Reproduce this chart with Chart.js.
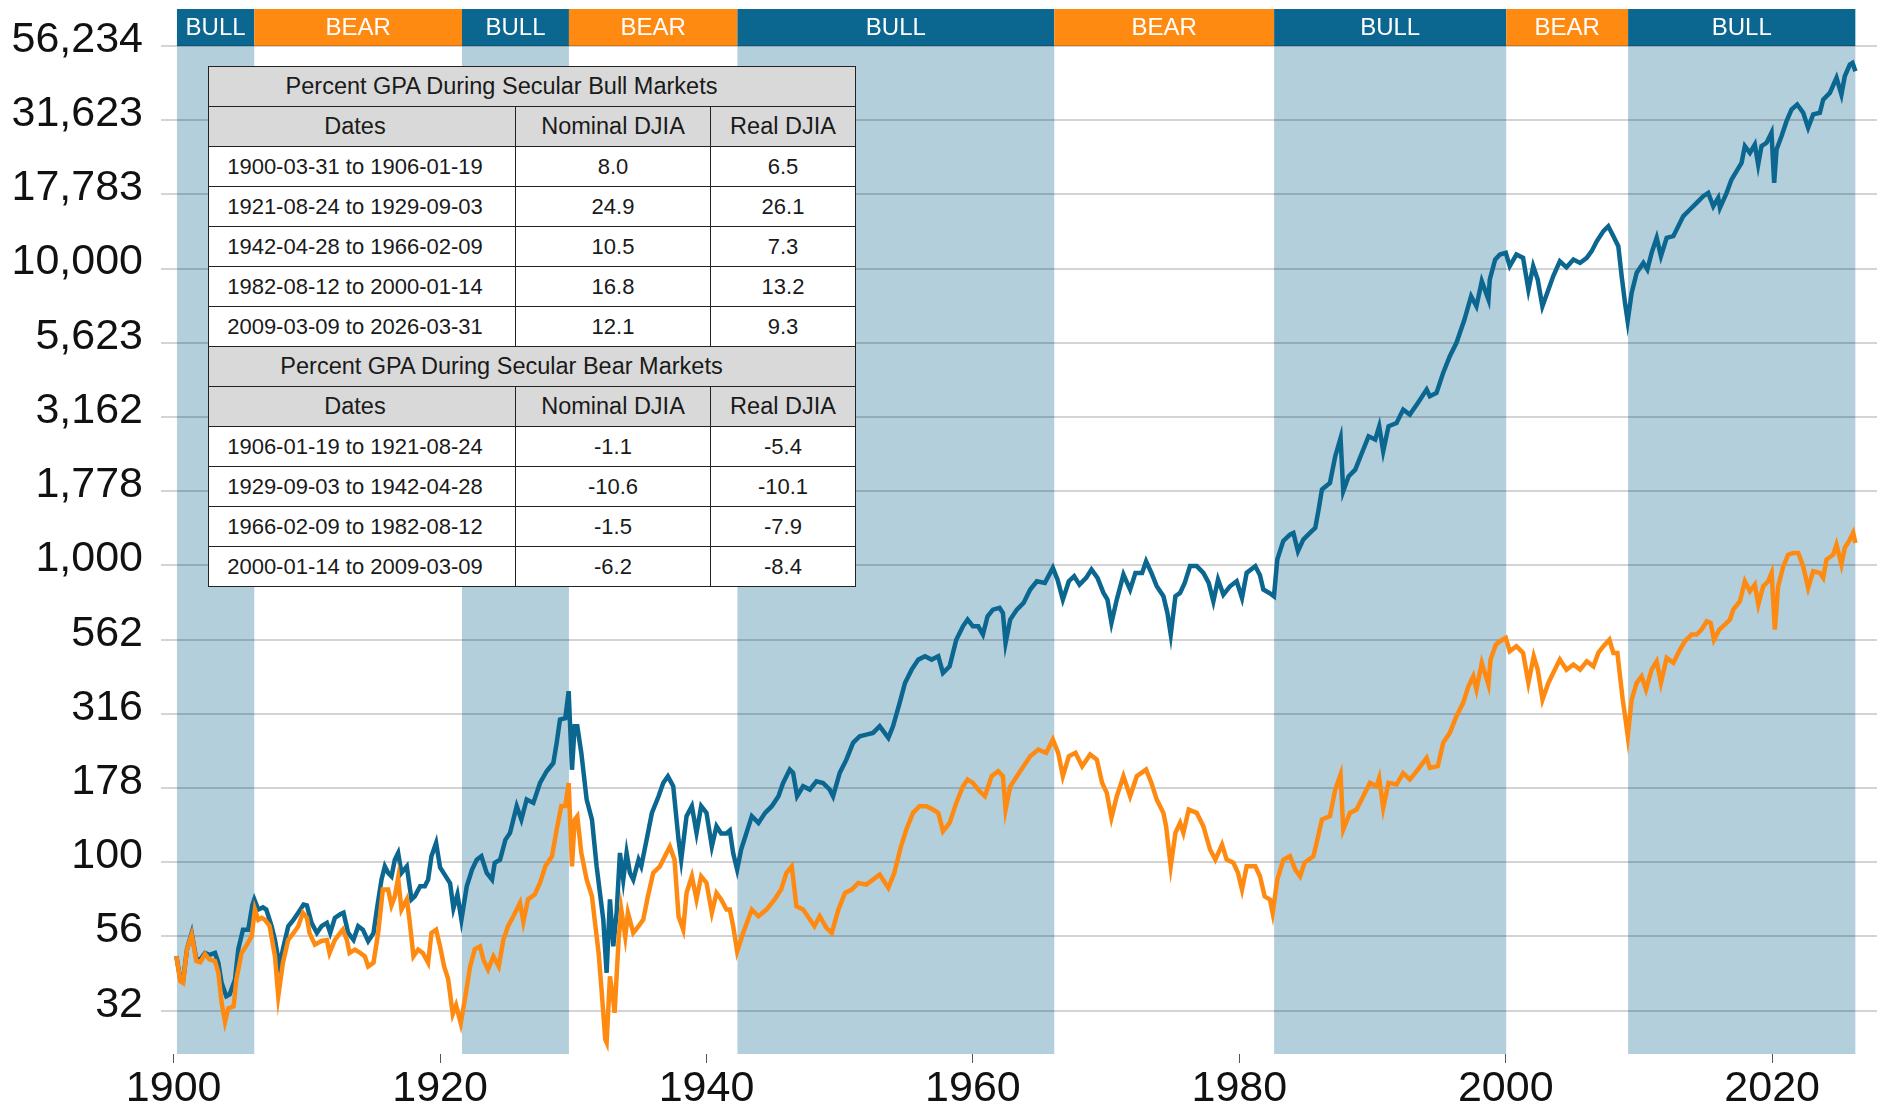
<!DOCTYPE html>
<html>
<head>
<meta charset="utf-8">
<title>DJIA secular bull and bear markets</title>
<script src="https://cdn.jsdelivr.net/npm/chart.js@4.4.1/dist/chart.umd.min.js"></script>
<style>
  body { margin: 0; background: #fff; }
  #wrap { position: relative; width: 1877px; height: 1107px; }
  #gpaTable {
    position: absolute; left: 208px; top: 66px; width: 647px;
    border-collapse: collapse; table-layout: fixed;
    font-family: 'Liberation Sans', Arial, sans-serif; color: #1a1a1a; background: #fff;
  }
  #gpaTable td { border: 1.5px solid #222; height: 39px; padding: 0; text-align: center; font-size: 22px; line-height: 1; }
  #gpaTable tr.title td { background: #d9d9d9; font-size: 23.5px; padding-right: 61px; }
  #gpaTable tr.head td { background: #d9d9d9; font-size: 23.5px; }
  #gpaTable td.dates { padding-right: 14px; }
</style>
</head>
<body>
<div id="wrap">
  <canvas id="djiaChart" width="1877" height="1107"></canvas>
  <table id="gpaTable">
    <colgroup><col style="width:307px"><col style="width:195px"><col style="width:145px"></colgroup>
    <tbody id="gpaBody"></tbody>
  </table>
</div>
<script>
// phase boundaries (same dates as the table) and their labels
const phaseDates = ['1900-03-31', '1906-01-19', '1921-08-24', '1929-09-03', '1942-04-28',
    '1966-02-09', '1982-08-12', '2000-01-14', '2009-03-09', '2026-03-31'];
const phaseLabels = ['BULL', 'BEAR', 'BULL', 'BEAR', 'BULL', 'BEAR', 'BULL', 'BEAR', 'BULL'];

// axis ticks
const xTickYears = [1900, 1920, 1940, 1960, 1980, 2000, 2020];
const yTickValues = [31.6228, 56.2341, 100, 177.828, 316.228, 562.341, 1000, 1778.28,
    3162.28, 5623.41, 10000, 17782.8, 31622.8, 56234.1];
const yTickLabels = ['32', '56', '100', '178', '316', '562', '1,000', '1,778',
    '3,162', '5,623', '10,000', '17,783', '31,623', '56,234'];

// table contents
const bullDates = ['1900-03-31 to 1906-01-19', '1921-08-24 to 1929-09-03', '1942-04-28 to 1966-02-09',
    '1982-08-12 to 2000-01-14', '2009-03-09 to 2026-03-31'];
const bullNominal = ['8.0', '24.9', '10.5', '16.8', '12.1'];
const bullReal = ['6.5', '26.1', '7.3', '13.2', '9.3'];
const bearDates = ['1906-01-19 to 1921-08-24', '1929-09-03 to 1942-04-28', '1966-02-09 to 1982-08-12',
    '2000-01-14 to 2009-03-09'];
const bearNominal = ['-1.1', '-10.6', '-1.5', '-6.2'];
const bearReal = ['-5.4', '-10.1', '-7.9', '-8.4'];

// [year, value]
const nominalDjia = [
    [1900.2, 48.3], [1900.5, 40.2], [1900.7, 39.7], [1901.0, 51], [1901.35, 57.7], [1901.7, 47.1],
    [1902.0, 47.1], [1902.35, 49.5], [1902.7, 48.8], [1903.1, 49.5], [1903.35, 45.9], [1903.6, 39.2],
    [1903.95, 35.4], [1904.2, 35.9], [1904.6, 40.2], [1904.85, 51], [1905.2, 59.3], [1905.6, 59.3],
    [1905.9, 71.6], [1906.05, 75], [1906.35, 69.3], [1906.7, 70.5], [1906.95, 69.3], [1907.35, 60.9],
    [1907.6, 54.8], [1907.95, 44.6], [1908.2, 51], [1908.6, 60.9], [1909.0, 64.1], [1909.35, 67.6],
    [1909.75, 72], [1910.0, 71.6], [1910.35, 62.5], [1910.75, 57.8], [1911.1, 60.9], [1911.5, 62.5],
    [1911.75, 57.8], [1912.1, 65], [1912.5, 66.8], [1912.75, 67.6], [1913.1, 57.8], [1913.5, 54.8],
    [1913.85, 60.9], [1914.2, 59.3], [1914.6, 54.2], [1915.0, 57.7], [1915.25, 69.3], [1915.6, 87.4],
    [1915.85, 96.9], [1916.1, 92.1], [1916.35, 89.7], [1916.6, 102], [1916.85, 107.5], [1917.1, 92.1],
    [1917.5, 96.9], [1917.85, 75], [1918.1, 76.8], [1918.5, 83], [1918.85, 83], [1919.1, 87.4],
    [1919.35, 104.8], [1919.7, 116.2], [1920.0, 96], [1920.4, 90], [1920.75, 85], [1921.0, 70],
    [1921.3, 78], [1921.6, 64], [1922.0, 83], [1922.4, 94.5], [1922.75, 102], [1923.1, 104.8],
    [1923.5, 92.1], [1923.9, 87.4], [1924.1, 99.5], [1924.5, 102], [1924.9, 119], [1925.25, 125.6],
    [1925.75, 154.6], [1926.1, 139.3], [1926.5, 162.8], [1927.0, 158.5], [1927.5, 185], [1928.0, 202.6],
    [1928.5, 216], [1928.75, 252.7], [1929.0, 302.6], [1929.4, 306], [1929.65, 377], [1929.9, 205],
    [1930.1, 287], [1930.3, 287], [1930.6, 233.7], [1931.0, 162.8], [1931.4, 139.3], [1931.75, 97],
    [1932.0, 78.8], [1932.25, 64.1], [1932.5, 42.4], [1932.75, 75], [1933.0, 52.1], [1933.25, 67.6],
    [1933.5, 107.5], [1933.75, 87.4], [1934.0, 107.5], [1934.25, 92.1], [1934.5, 87.4], [1934.9, 102],
    [1935.1, 97], [1935.5, 119], [1935.9, 146.6], [1936.4, 166.9], [1936.75, 185], [1937.1, 194.8],
    [1937.5, 180.5], [1937.9, 119], [1938.1, 102], [1938.5, 143], [1938.9, 154.6], [1939.25, 125.6],
    [1939.6, 154.6], [1940.0, 146.6], [1940.4, 113], [1940.75, 132.3], [1941.1, 125], [1941.5, 125],
    [1941.75, 128], [1942.0, 107.5], [1942.3, 94.5], [1942.6, 110.3], [1943.0, 125.6], [1943.4, 143],
    [1943.9, 135.7], [1944.4, 146.7], [1944.9, 154.5], [1945.4, 166.9], [1945.75, 185], [1946.25, 205.3],
    [1946.5, 200], [1946.8, 166.9], [1947.25, 180.3], [1947.75, 175.7], [1948.25, 187.5], [1948.75, 185],
    [1949.25, 175.7], [1949.5, 166.9], [1950.0, 200], [1950.5, 221.7], [1951.0, 252.5], [1951.5, 265.8],
    [1952.0, 269.2], [1952.5, 272.7], [1953.0, 287.2], [1953.65, 262.4], [1954.0, 287.2], [1954.5, 344.4],
    [1954.9, 402], [1955.4, 445.7], [1955.9, 481.7], [1956.4, 494.3], [1956.9, 481.7], [1957.4, 494.3],
    [1957.75, 434.5], [1958.25, 457.1], [1958.75, 562], [1959.25, 623.7], [1959.6, 657.2], [1960.0, 623.7],
    [1960.4, 623.7], [1960.75, 584.8], [1961.1, 674.4], [1961.5, 709.8], [1962.0, 719.6], [1962.25, 691.7],
    [1962.45, 548], [1962.8, 657], [1963.3, 710], [1963.8, 747.6], [1964.3, 829.4], [1964.8, 884.8],
    [1965.4, 873.5], [1966.0, 981], [1966.35, 896.3], [1966.75, 767.4], [1967.2, 884.8], [1967.6, 919.7],
    [1968.0, 862], [1968.5, 908], [1968.9, 968.9], [1969.35, 908], [1969.8, 808], [1970.1, 767.4],
    [1970.4, 640.6], [1970.8, 767.4], [1971.3, 931.6], [1971.8, 829.4], [1972.2, 944], [1972.7, 944],
    [1973.0, 1033], [1973.4, 944], [1973.8, 851], [1974.3, 787.4], [1974.6, 691.8], [1974.85, 584.8],
    [1975.2, 787.4], [1975.55, 808], [1975.9, 873.5], [1976.3, 995], [1976.8, 995], [1977.3, 944],
    [1977.7, 873.5], [1978.05, 757], [1978.4, 896.3], [1978.8, 797.6], [1979.3, 851], [1979.8, 884.8],
    [1980.2, 777.3], [1980.55, 944], [1981.2, 994], [1981.55, 926.7], [1981.8, 829.4], [1982.25, 808],
    [1982.6, 787.4], [1982.85, 1048], [1983.3, 1210], [1983.8, 1270], [1984.06, 1287], [1984.4, 1117],
    [1984.8, 1222], [1985.3, 1287], [1985.7, 1338], [1985.95, 1543], [1986.2, 1802], [1986.8, 1897],
    [1987.2, 2333], [1987.6, 2690], [1987.8, 1778], [1988.2, 1995], [1988.7, 2103], [1989.2, 2393],
    [1989.7, 2723], [1990.2, 2654], [1990.5, 2944], [1990.8, 2426], [1991.2, 2944], [1991.8, 3020],
    [1992.3, 3350], [1992.8, 3222], [1993.4, 3528], [1994.06, 3913], [1994.3, 3715], [1994.8, 3811],
    [1995.3, 4453], [1995.8, 5070], [1996.3, 5623], [1996.9, 6737], [1997.4, 8072], [1997.8, 7470],
    [1998.2, 9070], [1998.7, 7870], [1998.8, 9180], [1999.2, 10727], [1999.56, 11155], [2000.0, 11300],
    [2000.3, 10190], [2000.8, 11155], [2001.3, 10870], [2001.7, 8490], [2002.06, 10190], [2002.4, 9180],
    [2002.75, 7470], [2003.2, 8490], [2003.56, 9420], [2004.06, 10590], [2004.56, 10100], [2005.08, 10730],
    [2005.58, 10450], [2006.08, 10870], [2006.45, 11450], [2006.83, 12360], [2007.33, 13377], [2007.7, 13900],
    [2008.08, 12865], [2008.45, 11902], [2008.7, 9435], [2008.95, 7670], [2009.15, 6650], [2009.45, 8280],
    [2009.83, 9682], [2010.33, 10450], [2010.63, 9930], [2010.95, 11300], [2011.33, 12700], [2011.65, 11020],
    [2012.08, 12700], [2012.58, 12865], [2012.95, 13900], [2013.33, 15030], [2013.83, 15820], [2014.33, 16660],
    [2014.83, 17543], [2015.2, 18001], [2015.58, 16230], [2015.95, 17320], [2016.08, 16030], [2016.58, 18001],
    [2016.95, 19950], [2017.33, 21290], [2017.7, 22720], [2017.95, 25860], [2018.33, 24550], [2018.7, 26190],
    [2018.95, 22420], [2019.2, 25860], [2019.58, 26540], [2019.95, 28680], [2020.15, 19450], [2020.33, 25180],
    [2020.7, 27930], [2021.08, 31390], [2021.45, 34360], [2021.88, 35730], [2022.33, 33500], [2022.7, 29810],
    [2023.08, 33080], [2023.58, 33500], [2023.83, 37120], [2024.33, 39080], [2024.83, 43920], [2025.2, 38600],
    [2025.45, 44470], [2025.83, 48720], [2026.03, 49340], [2026.25, 46240]
];

const realDjia = [
    [1900.2, 48.3], [1900.5, 39.7], [1900.7, 39.2], [1901.0, 51], [1901.35, 57], [1901.7, 46.5],
    [1902.0, 46], [1902.35, 49], [1902.7, 47], [1903.1, 46.5], [1903.35, 42.5], [1903.6, 33.6],
    [1903.85, 29], [1904.1, 32.2], [1904.5, 32.7], [1904.7, 40.2], [1905.1, 49.5], [1905.5, 52.8],
    [1905.85, 56.3], [1906.1, 69.3], [1906.35, 64], [1906.6, 65], [1906.85, 64], [1907.2, 61],
    [1907.6, 48.3], [1907.85, 35.4], [1908.2, 45.9], [1908.6, 54.8], [1909.0, 57.8], [1909.35, 60.9],
    [1909.7, 67.6], [1910.0, 65], [1910.2, 57.7], [1910.6, 52.8], [1911.1, 54.3], [1911.5, 54.7],
    [1911.7, 49.5], [1912.1, 54.8], [1912.5, 57.8], [1912.7, 59.3], [1913.0, 54.8], [1913.2, 49.5],
    [1913.6, 50.8], [1914.0, 49.5], [1914.35, 48.2], [1914.6, 44.6], [1915.0, 45.9], [1915.35, 57.8],
    [1915.7, 80.9], [1916.1, 80.9], [1916.35, 71.6], [1916.6, 76.8], [1916.85, 88.6], [1917.1, 69.3],
    [1917.5, 75], [1917.7, 64], [1918.0, 48.2], [1918.35, 50.8], [1918.7, 49.5], [1919.1, 45.9],
    [1919.35, 57.8], [1919.7, 59.3], [1920.0, 52], [1920.3, 44.6], [1920.6, 40.5], [1920.95, 30.8],
    [1921.2, 33], [1921.55, 28.7], [1921.9, 35.4], [1922.25, 44.6], [1922.6, 50.9], [1923.0, 52.1],
    [1923.25, 47], [1923.6, 43.5], [1924.0, 48.2], [1924.4, 44.6], [1924.75, 54.8], [1925.1, 60.9],
    [1925.5, 65.8], [1926.0, 73], [1926.25, 63], [1926.6, 75], [1927.1, 77.9], [1927.5, 85.2],
    [1927.9, 96.9], [1928.4, 104.8], [1928.75, 128.9], [1929.1, 154.6], [1929.4, 154.6], [1929.65, 185],
    [1929.9, 96.9], [1930.1, 139], [1930.3, 143], [1930.6, 107.5], [1931.0, 87.5], [1931.4, 76.8],
    [1931.6, 64.1], [1931.9, 49.5], [1932.1, 38.2], [1932.4, 25.3], [1932.5, 24.7], [1932.75, 41.3],
    [1933.0, 34.3], [1933.1, 31.1], [1933.4, 54.8], [1933.6, 69.3], [1933.9, 56.2], [1934.1, 67.6],
    [1934.5, 57.8], [1934.9, 60.9], [1935.25, 64.1], [1935.6, 76.8], [1936.0, 92.1], [1936.5, 96.9],
    [1937.0, 107.5], [1937.25, 113], [1937.6, 102], [1937.9, 65.8], [1938.25, 59.3], [1938.5, 78.8],
    [1938.9, 89.7], [1939.25, 75], [1939.6, 89.7], [1940.0, 85.2], [1940.4, 67.6], [1940.75, 78.8],
    [1941.1, 75], [1941.5, 69.3], [1941.75, 69.3], [1942.0, 60.9], [1942.3, 50.1], [1942.75, 57.8],
    [1943.4, 69.3], [1943.9, 65.8], [1944.5, 69.3], [1945.1, 74.8], [1945.6, 80.9], [1946.0, 92.1],
    [1946.4, 96.9], [1946.75, 71.1], [1947.25, 69.3], [1947.6, 65.8], [1948.1, 60.9], [1948.5, 65.8],
    [1949.0, 60.1], [1949.4, 57.8], [1949.9, 69.3], [1950.4, 78.8], [1950.9, 80.9], [1951.4, 85.2],
    [1952.0, 84.1], [1952.5, 87.4], [1953.0, 90.9], [1953.65, 82], [1954.1, 92.1], [1954.6, 113.2],
    [1955.0, 128.9], [1955.5, 146.7], [1956.0, 154.5], [1956.5, 154.5], [1957.0, 150.5], [1957.4, 146.7],
    [1957.75, 127.2], [1958.25, 135.7], [1958.75, 158.5], [1959.25, 180.3], [1959.6, 190], [1960.0, 185],
    [1960.5, 173.4], [1960.9, 166.9], [1961.4, 195], [1961.9, 202.6], [1962.25, 195], [1962.45, 150.5],
    [1962.8, 180], [1963.3, 195], [1963.8, 210.7], [1964.3, 227.6], [1964.9, 239.8], [1965.5, 233.7],
    [1966.0, 259.1], [1966.4, 233.7], [1966.75, 195], [1967.2, 227.6], [1967.7, 233.7], [1968.2, 210.7],
    [1968.8, 230.7], [1969.3, 221.8], [1969.7, 185], [1970.05, 171.3], [1970.4, 141.1], [1970.8, 166.9],
    [1971.3, 195], [1971.8, 166.9], [1972.3, 195], [1973.0, 205.3], [1973.4, 185], [1973.8, 162.6],
    [1974.3, 146.7], [1974.5, 132.3], [1974.85, 97], [1975.2, 125.6], [1975.55, 135.7], [1975.8, 125.6],
    [1976.2, 150.5], [1976.8, 146.7], [1977.3, 132.3], [1977.8, 110.4], [1978.2, 102.1], [1978.7, 114.7],
    [1979.05, 102.1], [1979.55, 99.6], [1979.9, 92.1], [1980.2, 80.9], [1980.55, 97], [1981.2, 97],
    [1981.55, 89.7], [1981.9, 76.8], [1982.3, 74.9], [1982.5, 67.5], [1982.85, 87.4], [1983.3, 102],
    [1983.8, 104.8], [1984.2, 94.5], [1984.56, 89.7], [1984.9, 99.8], [1985.56, 104.8], [1985.86, 119.3],
    [1986.2, 139.3], [1986.8, 143], [1987.2, 175.8], [1987.6, 197.5], [1987.8, 128.9], [1988.3, 146.7],
    [1988.8, 150.5], [1989.3, 166.9], [1989.8, 185.1], [1990.3, 180.3], [1990.5, 192.3], [1990.8, 152.4],
    [1991.2, 185.1], [1991.8, 182.8], [1992.3, 199.6], [1992.8, 190], [1993.4, 205.3], [1994.06, 224.7],
    [1994.3, 208], [1994.9, 210.7], [1995.3, 252.5], [1995.8, 272.9], [1996.3, 310.5], [1996.8, 344.4],
    [1997.2, 391.9], [1997.56, 423.6], [1997.8, 382], [1998.2, 469.8], [1998.7, 396.8], [1998.86, 481.8],
    [1999.26, 541.4], [1999.56, 555.6], [2000.0, 570], [2000.3, 514], [2000.8, 534.5], [2001.3, 507.5],
    [2001.7, 402], [2002.1, 494.3], [2002.4, 445.7], [2002.76, 353.2], [2003.2, 402], [2003.56, 434.5],
    [2004.06, 481.8], [2004.56, 445], [2005.08, 463.5], [2005.58, 445.7], [2006.08, 475.5], [2006.58, 457.1],
    [2006.95, 507.5], [2007.33, 534.3], [2007.78, 562], [2008.08, 507.5], [2008.38, 507.5], [2008.58, 423.5],
    [2008.78, 353.3], [2008.96, 310.5], [2009.16, 265.9], [2009.45, 353.3], [2009.83, 402.2], [2010.2, 423.5],
    [2010.53, 381.9], [2010.95, 445.7], [2011.33, 475.5], [2011.65, 402.2], [2012.08, 488], [2012.58, 469.6],
    [2013.08, 520.7], [2013.45, 555.5], [2013.95, 584.8], [2014.33, 584.8], [2014.7, 608], [2015.08, 648.6],
    [2015.38, 640.3], [2015.63, 562], [2016.03, 608], [2016.45, 632.1], [2016.83, 657.3], [2017.08, 710.3],
    [2017.58, 757.7], [2017.95, 885], [2018.33, 818.6], [2018.7, 861.9], [2018.96, 738.2], [2019.33, 851],
    [2019.7, 885], [2019.96, 944], [2020.2, 608], [2020.45, 851], [2020.83, 992], [2021.2, 1087],
    [2021.58, 1101], [2021.96, 1101], [2022.33, 992], [2022.7, 840], [2023.08, 956], [2023.58, 944],
    [2023.83, 907.8], [2024.08, 1047], [2024.58, 1087], [2024.83, 1175], [2025.2, 1007], [2025.45, 1146],
    [2025.83, 1222], [2026.08, 1288], [2026.25, 1191]
];

const BLUE = '#0b6690';
const ORANGE = '#ff8a12';
const SHADE = '#b3cfdc';

// '1906-01-19' -> decimal year
function toYear(s) {
    const d = new Date(s + 'T00:00:00Z');
    const y = d.getUTCFullYear();
    const start = Date.UTC(y, 0, 1);
    const end = Date.UTC(y + 1, 0, 1);
    return y + (d.getTime() - start) / (end - start);
}

const phases = phaseLabels.map((label, i) => ({
    label: label,
    from: toYear(phaseDates[i]),
    to: toYear(phaseDates[i + 1])
}));

// table
function fillTable() {
    const body = document.getElementById('gpaBody');
    let html = '';
    const block = (title, dates, nominal, real) => {
        html += `<tr class="title"><td colspan="3">${title}</td></tr>`;
        html += '<tr class="head"><td class="dates">Dates</td><td>Nominal DJIA</td><td>Real DJIA</td></tr>';
        dates.forEach((d, i) => {
            html += `<tr><td class="dates">${d}</td><td>${nominal[i]}</td><td>${real[i]}</td></tr>`;
        });
    };
    block('Percent GPA During Secular Bull Markets', bullDates, bullNominal, bullReal);
    block('Percent GPA During Secular Bear Markets', bearDates, bearNominal, bearReal);
    body.innerHTML = html;
}
fillTable();

// bull shading behind the grid and the BULL / BEAR strip above the plot
const phasePlugin = {
    id: 'phases',
    beforeDraw(chart) {
        const { ctx, chartArea, scales } = chart;
        const x = scales.x;
        ctx.save();
        phases.forEach(p => {
            const x1 = x.getPixelForValue(p.from);
            const x2 = x.getPixelForValue(p.to);
            if (p.label === 'BULL') {
                ctx.fillStyle = SHADE;
                ctx.fillRect(x1, chartArea.top, x2 - x1, chartArea.bottom - chartArea.top);
            }
            ctx.fillStyle = p.label === 'BULL' ? BLUE : ORANGE;
            ctx.fillRect(x1, 9, x2 - x1, chartArea.top - 9);
            ctx.fillStyle = '#fff';
            ctx.font = "24px 'Liberation Sans', Arial, sans-serif";
            ctx.textAlign = 'center';
            ctx.textBaseline = 'middle';
            ctx.fillText(p.label, (x1 + x2) / 2, (9 + chartArea.top) / 2 + 1);
        });
        ctx.restore();
    }
};

const tickFont = { family: "'Liberation Sans', Arial, sans-serif", size: 43, lineHeight: 1 };

new Chart(document.getElementById('djiaChart').getContext('2d'), {
    type: 'line',
    data: {
        datasets: [{
            label: 'Nominal DJIA',
            data: nominalDjia.map(p => ({ x: p[0], y: p[1] })),
            borderColor: BLUE,
            borderWidth: 4.5,
            pointRadius: 0,
            tension: 0,
            order: 1
        }, {
            label: 'Real DJIA',
            data: realDjia.map(p => ({ x: p[0], y: p[1] })),
            borderColor: ORANGE,
            borderWidth: 4.5,
            pointRadius: 0,
            tension: 0,
            order: 0
        }]
    },
    options: {
        responsive: false,
        animation: false,
        devicePixelRatio: 1,
        layout: { padding: { top: 46, right: 0, bottom: 0, left: 0 } },
        plugins: {
            legend: { display: false },
            tooltip: { enabled: false }
        },
        scales: {
            x: {
                type: 'linear',
                min: 1899.047,
                max: 2027.87,
                afterBuildTicks: s => { s.ticks = xTickYears.map(v => ({ value: v })); },
                afterFit: s => { s.height = 53; },
                border: { display: false },
                grid: { drawOnChartArea: false, drawTicks: true, tickLength: 9, tickColor: '#555', lineWidth: 1 },
                ticks: {
                    autoSkip: false,
                    maxRotation: 0,
                    padding: 5,
                    color: '#111',
                    font: tickFont,
                    callback: (v, i) => String(xTickYears[i])
                }
            },
            y: {
                type: 'logarithmic',
                min: 22.6,
                max: 56234.2,
                afterBuildTicks: s => { s.ticks = yTickValues.map(v => ({ value: v })); },
                afterFit: s => { s.width = 161; },
                border: { display: false },
                grid: { color: 'rgba(0,0,0,0.17)', lineWidth: 2, drawTicks: false },
                ticks: {
                    autoSkip: false,
                    padding: 18,
                    labelOffset: -6,
                    color: '#111',
                    font: tickFont,
                    callback: (v, i) => yTickLabels[i]
                }
            }
        }
    },
    plugins: [phasePlugin]
});
</script>
</body>
</html>
